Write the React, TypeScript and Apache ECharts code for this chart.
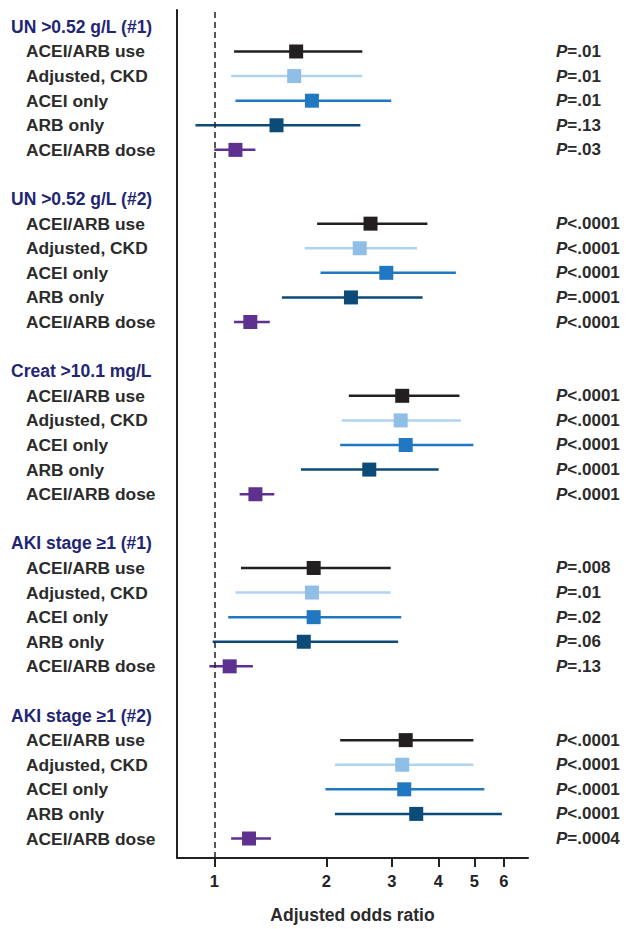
import React, { useEffect, useRef } from "react";
import * as echarts from "echarts";

const groupTitles = [
  "UN >0.52 g/L (#1)",
  "UN >0.52 g/L (#2)",
  "Creat >10.1 mg/L",
  "AKI stage ≥1 (#1)",
  "AKI stage ≥1 (#2)",
];
const rowLabels = ["ACEI/ARB use", "Adjusted, CKD", "ACEI only", "ARB only", "ACEI/ARB dose"];

const oddsRatio = [
  [1.66, 1.64, 1.83, 1.47, 1.14],
  [2.63, 2.46, 2.9, 2.33, 1.25],
  [3.2, 3.17, 3.27, 2.61, 1.29],
  [1.85, 1.83, 1.85, 1.74, 1.1],
  [3.27, 3.2, 3.24, 3.49, 1.24],
];
const ciLower = [
  [1.13, 1.11, 1.14, 0.89, 1.0],
  [1.89, 1.75, 1.93, 1.52, 1.13],
  [2.3, 2.2, 2.18, 1.71, 1.17],
  [1.18, 1.14, 1.09, 0.99, 0.97],
  [2.18, 2.11, 1.99, 2.11, 1.11],
];
const ciUpper = [
  [2.5, 2.5, 2.99, 2.47, 1.29],
  [3.74, 3.51, 4.46, 3.63, 1.41],
  [4.56, 4.6, 4.97, 4.01, 1.45],
  [2.98, 2.98, 3.18, 3.12, 1.27],
  [4.97, 4.97, 5.32, 5.93, 1.42],
];
const pValues = [
  ["=.01", "=.01", "=.01", "=.13", "=.03"],
  ["<.0001", "<.0001", "<.0001", "=.0001", "<.0001"],
  ["<.0001", "<.0001", "<.0001", "<.0001", "<.0001"],
  ["=.008", "=.01", "=.02", "=.06", "=.13"],
  ["<.0001", "<.0001", "<.0001", "<.0001", "=.0004"],
];
const xTicks = [1, 2, 3, 4, 5, 6];
const xMin = 0.794;
const xMax = 6.97;

const lineColors = ["#231f20", "#b2d3f0", "#1f78c1", "#0c4a78", "#5e3191"];
const boxColors = ["#231f20", "#8fbee7", "#1f78c1", "#0c4a78", "#5e3191"];

const FONT = "'Liberation Sans', Arial, Helvetica, sans-serif";

export default function App() {
  const ref = useRef<HTMLDivElement>(null);
  useEffect(() => {
    document.body.style.margin = "0";
    if (!ref.current) return;
    const chart = echarts.init(ref.current, null, { renderer: "svg" });

    const slotIds: string[] = [];
    const slotKind: string[] = [];
    const slotText: string[] = [];
    const slotP: string[] = [];
    const seriesData: number[][] = [];
    groupTitles.forEach((title, g) => {
      slotIds.push(`g${g}h`);
      slotKind.push("h");
      slotText.push(title);
      slotP.push("");
      rowLabels.forEach((lab, r) => {
        const idx = slotIds.length;
        slotIds.push(`g${g}r${r}`);
        slotKind.push("r");
        slotText.push(lab);
        slotP.push(pValues[g][r]);
        seriesData.push([
          Math.log10(ciLower[g][r]),
          Math.log10(ciUpper[g][r]),
          Math.log10(oddsRatio[g][r]),
          idx,
          r,
        ]);
      });
      if (g < groupTitles.length - 1) {
        slotIds.push(`g${g}b`);
        slotKind.push("b");
        slotText.push("");
        slotP.push("");
      }
    });

    const lmin = Math.log10(xMin);
    const lmax = Math.log10(xMax);
    const tickVals = xTicks.map((t) => Math.log10(t));

    const option = {
      animation: false,
      textStyle: { fontFamily: FONT },
      grid: [
        { left: 177, right: 98, top: 10, bottom: 67 },
        { left: 177, right: 98, top: 14.6, bottom: 78.2 },
      ],
      xAxis: [
        {
          type: "value",
          gridIndex: 0,
          min: lmin,
          max: lmax,
          splitLine: { show: false },
          axisLine: { show: true, onZero: false, lineStyle: { color: "#222", width: 2 } },
          axisTick: {
            show: true,
            length: 9,
            customValues: tickVals,
            lineStyle: { color: "#222", width: 2 },
          },
          axisLabel: {
            customValues: tickVals,
            margin: 14,
            fontSize: 16.5,
            fontWeight: "bold",
            color: "#222",
            fontFamily: FONT,
            formatter: (v: number) => String(Math.round(Math.pow(10, v))),
          },
          name: "Adjusted odds ratio",
          nameLocation: "middle",
          nameGap: 48,
          nameTextStyle: { fontSize: 17.5, fontWeight: "bold", color: "#2b2b2b", fontFamily: FONT },
        },
        {
          type: "value",
          gridIndex: 1,
          min: lmin,
          max: lmax,
          show: false,
        },
      ],
      yAxis: [
        {
          type: "value",
          gridIndex: 0,
          min: 0,
          max: 1,
          splitLine: { show: false },
          axisLabel: { show: false },
          axisTick: { show: false },
          axisLine: { show: true, onZero: false, lineStyle: { color: "#222", width: 2 } },
        },
        {
          type: "category",
          gridIndex: 1,
          inverse: true,
          data: slotIds,
          axisLine: { show: false },
          axisTick: { show: false },
          splitLine: { show: false },
          axisLabel: {
            interval: 0,
            align: "left",
            margin: 166,
            formatter: (_v: string, i: number) => {
              if (slotKind[i] === "h") return `{h|${slotText[i]}}`;
              if (slotKind[i] === "r") return `{r|${slotText[i]}}`;
              return "";
            },
            rich: {
              h: { fontSize: 17.5, fontWeight: "bold", color: "#1f2673", fontFamily: FONT },
              r: {
                fontSize: 17.4,
                fontWeight: "bold",
                color: "#2b2b2b",
                fontFamily: FONT,
                padding: [0, 0, 0, 15],
              },
            },
          },
        },
        {
          type: "category",
          gridIndex: 1,
          inverse: true,
          position: "right",
          data: slotIds,
          axisLine: { show: false },
          axisTick: { show: false },
          splitLine: { show: false },
          axisLabel: {
            interval: 0,
            align: "left",
            margin: 28,
            formatter: (_v: string, i: number) => {
              if (slotKind[i] !== "r") return "";
              return `{p|P}{v|${slotP[i]}}`;
            },
            rich: {
              p: {
                fontSize: 17,
                fontWeight: "bold",
                fontStyle: "italic",
                color: "#2b2b2b",
                fontFamily: FONT,
              },
              v: { fontSize: 17, fontWeight: "bold", color: "#2b2b2b", fontFamily: FONT },
            },
          },
        },
      ],
      series: [
        {
          type: "scatter",
          xAxisIndex: 0,
          yAxisIndex: 0,
          data: [[0, 0.5]],
          symbolSize: 0,
          silent: true,
          markLine: {
            silent: true,
            symbol: ["none", "none"],
            label: { show: false },
            lineStyle: { type: [6, 4], color: "#222", width: 1.5 },
            data: [{ xAxis: 0 }],
          },
        },
        {
          type: "custom",
          xAxisIndex: 1,
          yAxisIndex: 1,
          encode: { x: [0, 1, 2], y: 3 },
          data: seriesData,
          clip: false,
          renderItem: (_params: any, api: any) => {
            const y = api.value(3);
            const kind = api.value(4);
            const lo = api.coord([api.value(0), y]);
            const hi = api.coord([api.value(1), y]);
            const c = api.coord([api.value(2), y]);
            const s = 14;
            return {
              type: "group",
              children: [
                {
                  type: "line",
                  shape: { x1: lo[0], y1: lo[1], x2: hi[0], y2: hi[1] },
                  style: { stroke: lineColors[kind], lineWidth: 2.5 },
                },
                {
                  type: "rect",
                  shape: { x: c[0] - s / 2, y: c[1] - s / 2, width: s, height: s },
                  style: { fill: boxColors[kind] },
                },
              ],
            };
          },
        },
      ],
    };
    chart.setOption(option as any);
    return () => chart.dispose();
  }, []);
  return <div ref={ref} style={{ width: 626, height: 929 }} />;
}
